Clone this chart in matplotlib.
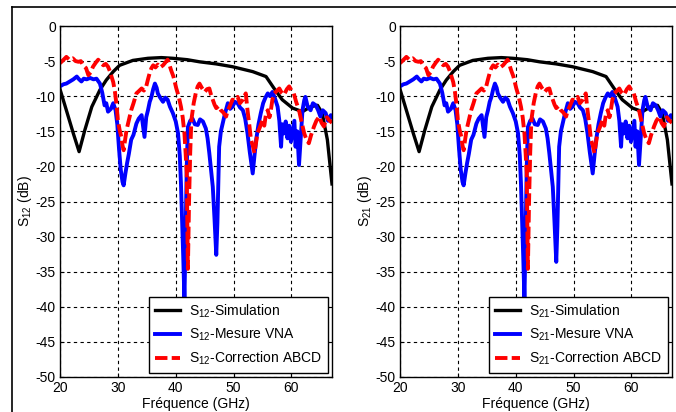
import matplotlib
matplotlib.use("Agg")
import matplotlib.pyplot as plt
from matplotlib.lines import Line2D

plt.rcParams['font.family'] = ['Liberation Sans', 'DejaVu Sans']
plt.rcParams['mathtext.default'] = 'regular'
plt.rcParams['axes.unicode_minus'] = False

# simulation curve (same on both panels)
sim_f = [20, 21.1, 22.3, 23.3, 24.3, 25.5, 26.9, 28, 29.2, 30.3,
         32.6, 35.2, 37.5, 39.5, 42, 44.1, 47, 49.8, 53.3, 55.6,
         57, 58.4, 60.2, 61.9, 63.3, 64.5, 65.3, 66.2, 67]
sim_db = [-9, -12, -15.3, -17.9, -14.8, -11.5, -9.1, -7.7, -6.5, -5.6,
          -4.9, -4.6, -4.5, -4.6, -4.8, -5.1, -5.4, -5.8, -6.5, -7.2,
          -8.9, -10.5, -11.7, -12.2, -11.5, -11.3, -12.4, -16.2, -22.5]

# measured VNA
mes_f = [20, 20.6, 21.1, 21.7, 22.3, 22.9, 23.3, 23.7, 24.1, 24.6,
         25.2, 25.8, 26.3, 26.9, 27.3, 27.7, 28.0, 28.3, 28.8, 29.2,
         29.6, 29.9, 30.2, 30.5, 30.8, 31.0, 31.3, 31.6, 31.9, 32.3,
         32.7, 33.2, 33.6, 34.1, 34.4, 34.6, 34.9, 35.2, 35.5, 35.8,
         36.1, 36.4, 36.7, 36.9, 37.3, 37.8, 38.2, 38.6, 39.0, 39.5,
         40.0, 40.4, 40.7, 40.9, 41.1, 41.3, 41.5, 41.7, 41.9, 42.1,
         42.5, 42.9, 43.3, 43.8, 44.2, 44.7, 45.2, 45.5, 45.8, 46.1,
         46.4, 46.7, 47.0, 47.2, 47.5, 47.8, 48.1, 48.5, 49.0, 49.4,
         49.8, 50.2, 50.7, 51.1, 51.6, 52.0, 52.4, 52.8, 53.1, 53.3,
         53.6, 53.9, 54.3, 54.7, 55.1, 55.5, 55.9, 56.3, 56.7, 57.1,
         57.6, 57.9, 58.2, 58.4, 58.7, 59.0, 59.3, 59.6, 59.9, 60.2,
         60.5, 60.7, 61.0, 61.3, 61.6, 61.9, 62.2, 62.4, 62.8, 63.3,
         63.7, 64.2, 64.6, 65.0, 65.4, 65.9, 66.3, 66.8, 67]
s12_mes = [-8.6, -8.3, -8.2, -7.9, -7.6, -7.2, -7.6, -7.9, -7.5, -7.6,
           -7.4, -7.6, -7.5, -8.2, -9.5, -11.3, -11.0, -12.2, -11.8, -11.0,
           -12.0, -14.0, -17.5, -20.5, -22.2, -22.7, -21.0, -19.5, -18.2, -16.2,
           -15.5, -13.9, -13.2, -12.7, -14.5, -15.8, -13.0, -12.0, -10.8, -10.1,
           -9.0, -8.2, -8.8, -9.6, -10.2, -10.8, -10.2, -10.5, -11.5, -12.4,
           -13.6, -15.3, -18.5, -22.4, -27.5, -33.0, -39.0, -30.0, -20.0, -14.4,
           -13.5, -13.2, -14.0, -14.1, -13.3, -13.6, -14.6, -16.0, -18.1, -20.5,
           -22.9, -27.5, -32.6, -28.0, -17.2, -15.0, -13.9, -12.5, -11.0, -11.8,
           -11.5, -10.8, -11.0, -11.6, -12.0, -13.2, -15.3, -18.0, -19.8, -21.0,
           -18.5, -16.2, -14.0, -12.4, -11.0, -10.2, -9.6, -10.0, -9.4, -10.2,
           -11.5, -13.5, -17.2, -14.0, -15.3, -13.6, -16.0, -14.2, -16.5, -15.0,
           -13.5, -17.2, -15.0, -19.8, -16.0, -12.0, -10.6, -10.1, -11.5, -12.0,
           -11.0, -11.3, -12.0, -12.9, -12.0, -12.4, -13.5, -12.7, -13.0]
s21_mes = [-8.6, -8.3, -8.2, -7.9, -7.6, -7.2, -7.6, -7.9, -7.5, -7.6,
           -7.4, -7.6, -7.5, -8.2, -9.5, -11.3, -11.0, -12.2, -11.8, -11.0,
           -12.0, -14.0, -17.5, -20.5, -22.2, -22.7, -21.0, -19.5, -18.2, -16.2,
           -15.5, -13.9, -13.2, -12.7, -14.5, -15.8, -13.0, -12.0, -10.8, -10.1,
           -9.0, -8.2, -8.8, -9.6, -10.2, -10.8, -10.2, -10.5, -11.5, -12.4,
           -13.6, -15.3, -18.5, -22.4, -27.5, -33.0, -39.0, -30.0, -20.0, -14.4,
           -13.5, -13.2, -14.0, -14.1, -13.3, -13.6, -14.6, -16.0, -18.1, -20.5,
           -22.9, -28.0, -33.6, -28.5, -17.2, -15.0, -13.9, -12.5, -11.0, -11.8,
           -11.5, -10.8, -11.0, -11.6, -12.0, -13.2, -15.3, -18.0, -19.8, -21.0,
           -18.5, -16.2, -14.0, -12.4, -11.0, -10.2, -9.6, -10.0, -9.4, -10.2,
           -11.5, -13.5, -17.2, -14.0, -15.3, -13.6, -16.0, -14.2, -16.5, -15.0,
           -13.5, -17.2, -15.0, -19.8, -16.0, -12.0, -10.6, -10.1, -11.5, -12.0,
           -11.0, -11.3, -12.0, -12.9, -12.0, -12.4, -13.5, -12.7, -13.0]

# ABCD correction
cor_f = [20, 20.5, 21.1, 21.6, 22.2, 22.7, 23.2, 23.6, 24.0, 24.5,
         24.9, 25.3, 25.7, 26.2, 26.6, 27.1, 27.5, 27.9, 28.3, 28.6,
         28.9, 29.2, 29.5, 29.8, 30.0, 30.3, 30.6, 30.8, 31.0, 31.2,
         31.5, 31.9, 32.3, 32.7, 33.2, 33.6, 34.1, 34.5, 34.9, 35.2,
         35.5, 35.8, 36.1, 36.5, 36.9, 37.3, 37.8, 38.2, 38.6, 38.9,
         39.2, 39.6, 40.1, 40.5, 40.9, 41.2, 41.5, 41.7, 41.9, 42.0,
         42.1, 42.3, 42.5, 42.7, 43.1, 43.5, 43.8, 44.1, 44.5, 45.0,
         45.4, 45.8, 46.1, 46.4, 46.7, 47.0, 47.4, 47.8, 48.2, 48.7,
         49.0, 49.3, 49.8, 50.2, 50.7, 51.1, 51.6, 52.1, 52.4, 52.7,
         53.0, 53.3, 53.6, 53.9, 54.1, 54.5, 55.0, 55.3, 55.6, 55.9,
         56.2, 56.4, 56.7, 57.0, 57.4, 57.9, 58.3, 58.7, 59.2, 59.6,
         60.0, 60.4, 60.8, 61.3, 61.7, 62.2, 62.6, 63.0, 63.4, 63.9,
         64.3, 64.8, 65.2, 65.6, 66.1, 66.5, 67.0]
s_cor = [-5.3, -4.9, -4.4, -4.8, -4.6, -5.0, -5.1, -5.0, -5.6, -6.0,
         -7.0, -6.6, -5.8, -5.2, -4.8, -5.3, -5.6, -5.4, -5.8, -6.4,
         -7.2, -8.0, -9.4, -11.5, -13.4, -14.8, -15.8, -17.0, -17.7, -16.5,
         -14.8, -13.4, -12.0, -11.0, -9.6, -9.3, -8.9, -9.2, -8.6, -7.6,
         -6.7, -6.0, -5.6, -5.9, -5.5, -5.9, -5.6, -5.2, -4.8, -5.5,
         -6.3, -7.2, -8.9, -10.0, -11.5, -13.0, -15.3, -18.0, -21.0, -28.0,
         -34.6, -25.0, -18.0, -13.4, -11.0, -9.4, -8.6, -8.2, -8.8, -9.4,
         -9.0, -8.9, -9.8, -10.5, -11.2, -11.7, -11.4, -12.0, -12.3, -12.9,
         -12.0, -11.5, -10.5, -10.6, -10.1, -11.0, -10.5, -9.6, -12.0, -14.0,
         -16.2, -17.0, -18.1, -16.5, -15.3, -14.5, -13.4, -14.2, -12.5, -12.0,
         -13.0, -12.2, -10.5, -9.6, -9.3, -8.9, -9.5, -9.8, -9.0, -8.6,
         -9.2, -9.6, -10.8, -12.0, -13.5, -15.3, -16.2, -16.7, -15.5, -14.3,
         -13.5, -12.9, -13.8, -14.3, -13.0, -13.4, -13.8]

xticks = [20, 30, 40, 50, 60]
yticks = [0, -5, -10, -15, -20, -25, -30, -35, -40, -45, -50]

fig = plt.figure(figsize=(6.76, 4.12), dpi=100)

# outer frame of the figure (top and left edges visible)
fig.add_artist(Line2D([12 / 676, 1], [1 - 7 / 412, 1 - 7 / 412], color='black', lw=1.2,
                      transform=fig.transFigure))
fig.add_artist(Line2D([12 / 676, 12 / 676], [0, 1 - 7 / 412], color='black', lw=1.2,
                      transform=fig.transFigure))

panels = [('12', s12_mes, 60), ('21', s21_mes, 400)]
for sub, mes, left in panels:
    ax = fig.add_axes([left / 676, 35 / 412, 272 / 676, 351 / 412])
    ax.plot(sim_f, sim_db, color='black', lw=2.4, label='S$_{%s}$-Simulation' % sub)
    ax.plot(mes_f, mes, color='#0000ff', lw=2.8, label='S$_{%s}$-Mesure VNA' % sub)
    ax.plot(cor_f, s_cor, color='#ff0000', lw=2.8, dashes=(3.2, 1.1),
            label='S$_{%s}$-Correction ABCD' % sub)
    ax.set_xlim(20, 67)
    ax.set_ylim(-50, 0)
    ax.set_xticks(xticks)
    ax.set_yticks(yticks)
    ax.grid(True, color='black', linestyle=(0, (3, 3)), lw=0.8)
    ax.tick_params(direction='in', length=3, labelsize=10, top=True, right=True,
                   colors='black', pad=3)
    for sp in ax.spines.values():
        sp.set_linewidth(1.0)
    ax.set_xlabel('Fréquence (GHz)', fontsize=10, labelpad=1)
    ax.set_ylabel('S$_{%s}$ (dB)' % sub, fontsize=10, labelpad=1)
    leg = ax.legend(loc='lower right', fontsize=10, fancybox=False, framealpha=1,
                    edgecolor='black', handlelength=1.8, handletextpad=0.7,
                    borderpad=0.4, labelspacing=0.5, borderaxespad=0.3)
    leg.get_frame().set_linewidth(1.0)

fig.savefig('out.png', dpi=100)
